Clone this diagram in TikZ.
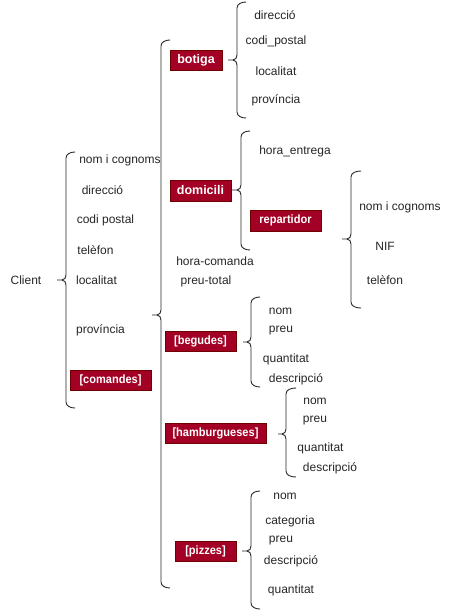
\documentclass[tikz,border=0pt]{standalone}
\usepackage{fontspec}
\setmainfont{Liberation Sans}
\newfontfamily\narrowfont[FakeStretch=0.92]{Liberation Sans}
\definecolor{boxred}{HTML}{A20025}
\definecolor{boxline}{HTML}{6F0000}
\newcommand{\cbr}[6]{% tipx, spinex, curlx, top, tipy, bottom
  \draw[brace line] (#3,#4) to[out=180,in=90] (#2,#4+6) -- (#2,#5-5) to[out=-90,in=0] (#2-4,#5) -- (#1,#5);
  \draw[brace line] (#2-4,#5) to[out=0,in=90] (#2,#5+5) -- (#2,#6-6) to[out=-90,in=180] (#3,#6);
}
\begin{document}
\begin{tikzpicture}[x=1pt,y=-1pt,
  lbl/.style={inner sep=0pt,font=\fontsize{12}{14}\selectfont,text=black!85},
  redbox/.style={draw=boxline,fill=boxred,text=white,inner sep=0pt,font=\narrowfont\fontsize{12}{14}\selectfont\bfseries},
  bigbox/.style={redbox,font=\fontsize{12.5}{14}\selectfont\bfseries},
  brace line/.style={draw=black!85,line width=0.9pt}]
\useasboundingbox (0,0) rectangle (451,611);
\fill[white] (0,0) rectangle (451,611);
% Client level
\node[lbl] (client) at (26,280) {Client};
\cbr{57}{66}{75}{152}{280}{408}
\node[lbl] (c1) at (120,160) {nom i cognoms};
\node[lbl] (c2) at (102.5,190) {direcció};
\node[lbl] (c3) at (105.5,220) {codi postal};
\node[lbl] (c4) at (95.5,250) {telèfon};
\node[lbl] (c5) at (96.5,280) {localitat};
\node[lbl] (c6) at (100.5,330) {província};
\node[redbox,minimum width=81pt,minimum height=20pt] (comandes) at (110.5,380) {[comandes]};
% comandes brace
\cbr{152}{161}{170}{40}{315}{588}
% botiga
\node[bigbox,minimum width=52pt,minimum height=20pt] (botiga) at (196,60) {botiga};
\cbr{228}{237}{246}{2}{60}{118}
\node[lbl] (b1) at (275,15) {direcció};
\node[lbl] (b2) at (276,41) {codi\_postal};
\node[lbl] (b3) at (276,71) {localitat};
\node[lbl] (b4) at (276,100) {província};
% domicili
\node[bigbox,minimum width=61pt,minimum height=21pt] (domicili) at (200.5,190.5) {domicili};
\cbr{232}{241}{250}{131}{190}{250}
\node[lbl] (d1) at (295,151) {hora\_entrega};
\node[redbox,minimum width=71pt,minimum height=21pt] (repartidor) at (285.5,220.5) {repartidor};
\cbr{342}{351}{361}{171}{239}{308}
\node[lbl] (r1) at (400,207) {nom i cognoms};
\node[lbl] (r2) at (385,246) {NIF};
\node[lbl] (r3) at (385,280) {telèfon};
\node[lbl] (hc) at (215,261) {hora-comanda};
\node[lbl] (pt) at (206,281) {preu-total};
% begudes
\node[redbox,minimum width=71pt,minimum height=20pt] (begudes) at (200.5,341) {[begudes]};
\cbr{243}{251}{260}{297}{342}{387}
\node[lbl] (g1) at (280.5,311) {nom};
\node[lbl] (g2) at (281,331) {preu};
\node[lbl] (g3) at (286,359) {quantitat};
\node[lbl] (g4) at (296,379) {descripció};
% hamburgueses
\node[redbox,minimum width=101pt,minimum height=20pt] (hamb) at (215.5,433) {[hamburgueses]};
\cbr{278}{286}{296}{388}{434}{477}
\node[lbl] (h1) at (315,401) {nom};
\node[lbl] (h2) at (315,421) {preu};
\node[lbl] (h3) at (320.5,448) {quantitat};
\node[lbl] (h4) at (330,468) {descripció};
% pizzes
\node[redbox,minimum width=61pt,minimum height=20pt] (pizzes) at (205.5,551) {[pizzes]};
\cbr{242}{251}{260}{491}{551}{609}
\node[lbl] (p1) at (285,496) {nom};
\node[lbl] (p2) at (290,521) {categoria};
\node[lbl] (p3) at (281,541) {preu};
\node[lbl] (p4) at (291,561) {descripció};
\node[lbl] (p5) at (291,590) {quantitat};
\end{tikzpicture}
\end{document}
